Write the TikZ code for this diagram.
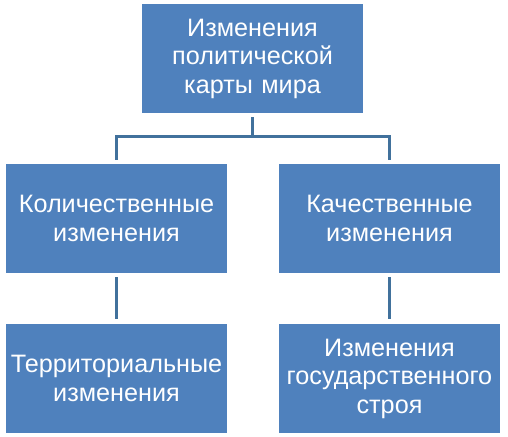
\documentclass[tikz,border=0pt]{standalone}
\usepackage{fontspec}
\setmainfont{Liberation Sans}
\usetikzlibrary{positioning,calc}
\definecolor{cBox}{HTML}{4F81BD}
\definecolor{cLink}{HTML}{41719C}
\tikzset{
  box/.style={fill=cBox, draw=none, minimum width=221bp, minimum height=109bp, text width=218bp,
    align=center, text=white, font=\fontsize{25.2bp}{28.5bp}\selectfont, inner sep=0pt},
  link/.style={draw=cLink, line width=3bp},
}
\begin{document}
\begin{tikzpicture}[x=1bp, y=-1bp]
\useasboundingbox (0,0) rectangle (508,437);
% root, two branches, one leaf under each
\node[box] (root) at (252.5,58.5) {Изменения\\политической\\карты мира};
\node[box] (kol)  at (116.5,218.5) {Количественные\\изменения};
\node[box] (kach) at (389.5,218.5) {Качественные\\изменения};
\node[box] (terr) at (116.5,378.5) {Территориальные\\изменения};
\node[box] (stroy) at (389.5,378.5) {Изменения\\государственного\\строя};
\coordinate (bus) at (252.5,137);
\draw[link, shorten <=4bp] (root) -- (bus);
\draw[link, shorten >=4bp] (bus) -| (kol);
\draw[link, shorten >=4bp] (bus) -| (kach);
\draw[link, shorten <=4bp, shorten >=5bp] (kol) -- (terr);
\draw[link, shorten <=4bp, shorten >=5bp] (kach) -- (stroy);
\end{tikzpicture}
\end{document}
